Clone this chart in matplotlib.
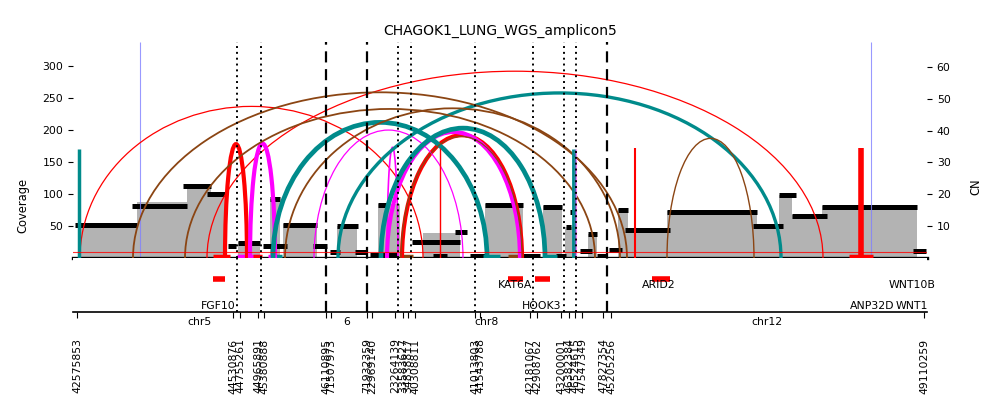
import matplotlib
matplotlib.use("Agg")
import matplotlib.pyplot as plt
from matplotlib.patches import Arc

TITLE = "CHAGOK1_LUNG_WGS_amplicon5"
XMIN, XMAX = 73, 927          # concatenated-position axis range
COV_MAX, CN_MAX = 337.5, 67.75

TEAL = "#008b8b"
BROWN = "#8b4513"
GRAY = "#b3b3b3"

# coverage (gray) segments
cov_x0 = [79, 137, 187, 211, 238, 270, 283, 337, 378, 423, 485, 543, 565, 588, 618, 628, 667, 757, 779, 792, 822]
cov_x1 = [137, 187, 211, 225, 260, 280, 317, 357, 400, 460, 523, 562, 577, 597, 628, 667, 757, 779, 792, 822, 917]
cov_val = [55, 88, 115, 101, 25, 93, 53, 50, 84, 39, 85, 82, 48, 38, 76, 45, 73, 51, 99, 67, 81]

# copy-number segments (coverage units)
seg_x0 = [75, 132, 183, 207, 228, 238, 263, 270, 283, 313, 330, 337, 355, 378, 412, 455, 485, 543, 566, 570,
          580, 588, 609, 618, 625, 667, 753, 779, 792, 822, 913, 370, 433, 470, 523, 556, 597]
seg_x1 = [137, 187, 211, 225, 236, 260, 287, 280, 317, 327, 340, 358, 367, 388, 460, 467, 523, 562, 571, 576,
          592, 597, 622, 628, 670, 757, 783, 796, 827, 917, 926, 397, 447, 485, 540, 566, 607]
seg_y = [52, 82, 112, 100, 19, 23, 19, 92, 52, 19, 9, 50, 9, 83, 25, 40, 83, 80, 48, 72,
         11, 37, 12, 75, 44, 72, 50, 98, 66, 79, 11, 5, 3, 3, 3, 3, 3]

# breakpoint arcs
arc_x1 = [80, 207, 225, 402, 250, 387, 314, 387, 273, 381, 338, 133, 185, 285, 401, 667]
arc_x2 = [423, 823, 247, 522, 275, 520, 463, 398, 487, 545, 781, 627, 595, 620, 522, 754]
arc_h = [237, 292, 178, 192, 179, 197, 200, 173, 212, 203, 258, 259, 233, 234, 190, 187]
arc_col = ["red", "red", "red", "red", "magenta", "magenta", "magenta", "magenta",
           TEAL, TEAL, TEAL, BROWN, BROWN, BROWN, BROWN, BROWN]
arc_lw = [0.9, 0.9, 3.0, 3.0, 3.0, 3.0, 0.9, 1.2, 3.4, 3.4, 2.4, 1.3, 1.3, 1.3, 0.9, 1.0]

# source / foldback edges (vertical)
src_x = [79, 440, 573, 574.7, 576, 635, 861]
src_h = [170, 172, 170, 170, 170, 172, 172]
src_col = [TEAL, "red", TEAL, "#4a62b8", "violet", "red", "red"]
src_lw = [2.5, 1.0, 2.0, 1.0, 0.8, 1.5, 4.0]

# short colored marks at the baseline
mark_x0 = [213, 237, 253, 268, 272, 400, 483, 508, 543, 849]
mark_x1 = [230, 260, 262, 278, 282, 413, 500, 520, 557, 873]
mark_col = ["red", "magenta", "red", "magenta", TEAL, BROWN, TEAL, BROWN, TEAL, "red"]

blue_x = [140, 871]
dashed_x = [326, 367, 607]
dotted_x = [237, 261, 398, 411, 475, 533, 564, 576]

tick_pos = [77, 233, 240, 258, 264, 326, 331, 367, 372, 395, 403, 408, 415, 475, 480,
            530, 537, 561, 569, 575, 582, 603, 611, 924]
tick_labels = ["42575853", "44530876", "44755261", "44965891", "45380888", "46110895", "71507973",
               "71932359", "22969140", "23264139", "33583627", "34838817", "40308811", "41013803",
               "41543788", "42181067", "42908762", "43200001", "46382384", "46524615", "47547349",
               "47827354", "45205256", "49110259"]

chr_names = ["chr5", "6", "chr8", "chr12"]
chr_pos = [199, 347, 487, 767]

gene_names = ["FGF10", "KAT6A", "HOOK3", "ARID2", "WNT10B", "ANP32D", "WNT1"]
gene_pos = [218, 515, 542, 659, 912, 872, 912]
gene_row = [0.12, 0.5, 0.12, 0.5, 0.5, 0.12, 0.12]
gbar_x0 = [213, 508, 535, 652]
gbar_x1 = [225, 523, 550, 670]

FS = 7.8

fig = plt.figure(figsize=(10, 4.16), dpi=100)
ax = fig.add_axes([0.073, 0.3798, 0.854, 0.519])
axl = fig.add_axes([0.073, 0.25, 0.854, 0.1298])

# coverage
ax.bar(cov_x0, cov_val, width=[b - a for a, b in zip(cov_x0, cov_x1)], align="edge",
       color=GRAY, linewidth=0, zorder=1)
# CN segments
ax.hlines(seg_y, seg_x0, seg_x1, colors="black", linewidth=3.6, zorder=2)

# arcs
for x1, x2, h, c, lw in zip(arc_x1, arc_x2, arc_h, arc_col, arc_lw):
    ax.add_patch(Arc(((x1 + x2) / 2, 0), x2 - x1, 2 * h, theta1=0, theta2=180,
                     color=c, linewidth=lw, zorder=4))
ax.vlines(src_x, 0, src_h, colors=src_col, linewidths=src_lw, zorder=4)
ax.hlines([3] * len(mark_x0), mark_x0, mark_x1, colors=mark_col, linewidth=2.5, zorder=3)
ax.vlines(blue_x, 0, COV_MAX, colors="#8080ff", linewidth=0.8, alpha=0.8, zorder=2)

for x in dashed_x:
    ax.axvline(x, color="black", linestyle=(0, (5, 3)), linewidth=1.6, zorder=5)
    axl.axvline(x, color="black", linestyle=(0, (5, 3)), linewidth=1.6)
for x in dotted_x:
    ax.axvline(x, color="black", linestyle=(0, (1, 2)), linewidth=1.4, zorder=5)
    axl.axvline(x, color="black", linestyle=(0, (1, 2)), linewidth=1.4)

ax.set_xlim(XMIN, XMAX)
ax.set_ylim(0, COV_MAX)
ax.set_xticks([])
ax.set_yticks([50, 100, 150, 200, 250, 300])
ax.tick_params(axis="y", labelsize=FS, length=3.5, width=0.8)
for s in ["top", "left", "right"]:
    ax.spines[s].set_visible(False)
ax.spines["bottom"].set_linewidth(2.4)
ax.set_ylabel("Coverage", fontsize=8.3)
ax.yaxis.set_label_coords(-0.051, 0.245)
ax.set_title(TITLE, fontsize=10, pad=5)

ax2 = ax.twinx()
ax2.set_ylim(0, CN_MAX)
ax2.axhline(2, color="red", linewidth=0.8, alpha=0.8, zorder=3)
ax2.set_yticks([10, 20, 30, 40, 50, 60])
ax2.tick_params(axis="y", labelsize=FS, length=3.5, width=0.8)
for s in ax2.spines.values():
    s.set_visible(False)
ax2.set_ylabel("CN", fontsize=8.3)
ax2.yaxis.set_label_coords(1.05, 0.33)

# lower annotation axis
axl.set_xlim(XMIN, XMAX)
axl.set_ylim(0, 1)
for s in ["top", "left", "right"]:
    axl.spines[s].set_visible(False)
axl.spines["bottom"].set_linewidth(1.2)
axl.set_yticks([])
axl.set_xticks(tick_pos)
axl.set_xticklabels(tick_labels, rotation=90, fontsize=FS)
axl.tick_params(axis="x", length=4, width=0.8, pad=15)
axl.hlines([0.61] * len(gbar_x0), gbar_x0, gbar_x1, colors="red", linewidth=4)
for name, x, r in zip(gene_names, gene_pos, gene_row):
    axl.text(x, r, name, ha="center", va="center", fontsize=FS)
for name, x in zip(chr_names, chr_pos):
    axl.text(x, -0.09, name, ha="center", va="top", fontsize=FS, clip_on=False)

fig.savefig("out.png", dpi=100)
